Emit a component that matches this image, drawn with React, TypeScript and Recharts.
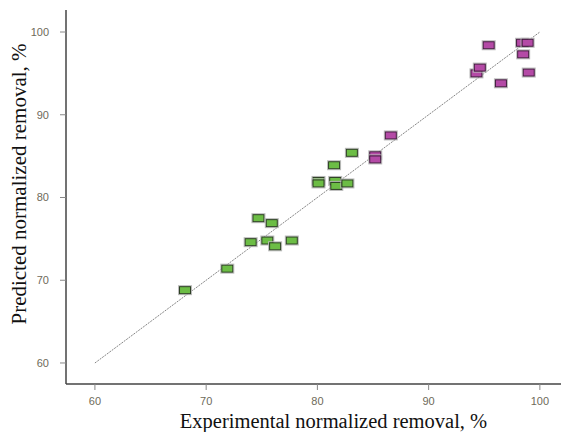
import { ScatterChart, Scatter, XAxis, YAxis, ReferenceLine, Label } from 'recharts';

// experimental vs predicted normalized removal (%)
const greenExp = [68.1, 71.9, 74.0, 74.7, 75.5, 75.9, 76.2, 77.7, 80.1, 80.1, 81.5, 81.6, 81.7, 82.7, 83.1];
const greenPred = [68.8, 71.4, 74.6, 77.5, 74.8, 76.9, 74.1, 74.8, 82.0, 81.7, 83.9, 82.0, 81.4, 81.7, 85.4];

const pinkExp = [85.2, 85.2, 86.6, 94.3, 94.6, 95.4, 96.5, 98.4, 98.9, 98.5, 99.0];
const pinkPred = [85.1, 84.6, 87.5, 95.0, 95.7, 98.4, 93.8, 98.7, 98.7, 97.3, 95.1];

const ticks = [60, 70, 80, 90, 100];

const greenData = greenExp.map((x, i) => ({ x, y: greenPred[i] }));
const pinkData = pinkExp.map((x, i) => ({ x, y: pinkPred[i] }));

const tickStyle = { fontSize: 11, fill: '#6e6a5a', fontFamily: '"Liberation Sans", Arial, sans-serif' };
const serif = '"Liberation Serif", "Times New Roman", serif';

function makeBox(fill: string, stroke: string) {
  return (props: any) => {
    const { cx, cy } = props;
    if (cx == null || cy == null) return <g />;
    return (
      <g>
        <rect x={cx - 6.5} y={cy - 4.5} width={13} height={9} fill="none" stroke="#bbb" strokeWidth={1} />
        <rect x={cx - 5.5} y={cy - 3.5} width={11} height={7} fill={fill} stroke={stroke} strokeWidth={1} />
      </g>
    );
  };
}

const YTitle = (props: any) => {
  const vb = props.viewBox;
  const x = vb.x + 26;
  const y = vb.y + 174;
  return (
    <text x={x} y={y} textAnchor="middle" transform={`rotate(-90, ${x}, ${y})`} fontSize={21} fontFamily={serif} fill="#111">
      Predicted normalized removal, %
    </text>
  );
};

const XTitle = (props: any) => {
  const vb = props.viewBox;
  return (
    <text x={vb.x + vb.width / 2 + 20} y={vb.y + 43.5} textAnchor="middle" fontSize={20.5} fontFamily={serif} fill="#111">
      Experimental normalized removal, %
    </text>
  );
};

export default function App() {
  return (
    <div style={{ position: 'fixed', left: 0, top: 0, width: 561, height: 432, background: '#fff' }}>
      <ScatterChart width={561} height={432} margin={{ top: 10, right: 0, left: 0, bottom: 0 }}>
        <XAxis
          type="number"
          dataKey="x"
          domain={[57.4, 101.9]}
          ticks={ticks}
          height={48}
          tick={tickStyle}
          tickSize={6}
          tickMargin={7}
          axisLine={{ stroke: '#444', strokeWidth: 1.5 }}
          tickLine={{ stroke: '#888' }}
          allowDataOverflow
        >
          <Label content={XTitle} />
        </XAxis>
        <YAxis
          type="number"
          dataKey="y"
          domain={[57.46, 102.66]}
          ticks={ticks}
          width={66}
          tick={tickStyle}
          tickSize={6}
          tickMargin={11}
          axisLine={{ stroke: '#444', strokeWidth: 1.5 }}
          tickLine={{ stroke: '#888' }}
          allowDataOverflow
        >
          <Label content={YTitle} />
        </YAxis>
        <ReferenceLine
          segment={[{ x: 60, y: 60 }, { x: 100, y: 100 }]}
          stroke="#666"
          strokeWidth={0.8}
          strokeDasharray="2 1"
          ifOverflow="visible"
        />
        <Scatter data={greenData} shape={makeBox('#6cbd45', '#2b3d22')} isAnimationActive={false} />
        <Scatter data={pinkData} shape={makeBox('#b44aa6', '#3f1a3b')} isAnimationActive={false} />
      </ScatterChart>
    </div>
  );
}
